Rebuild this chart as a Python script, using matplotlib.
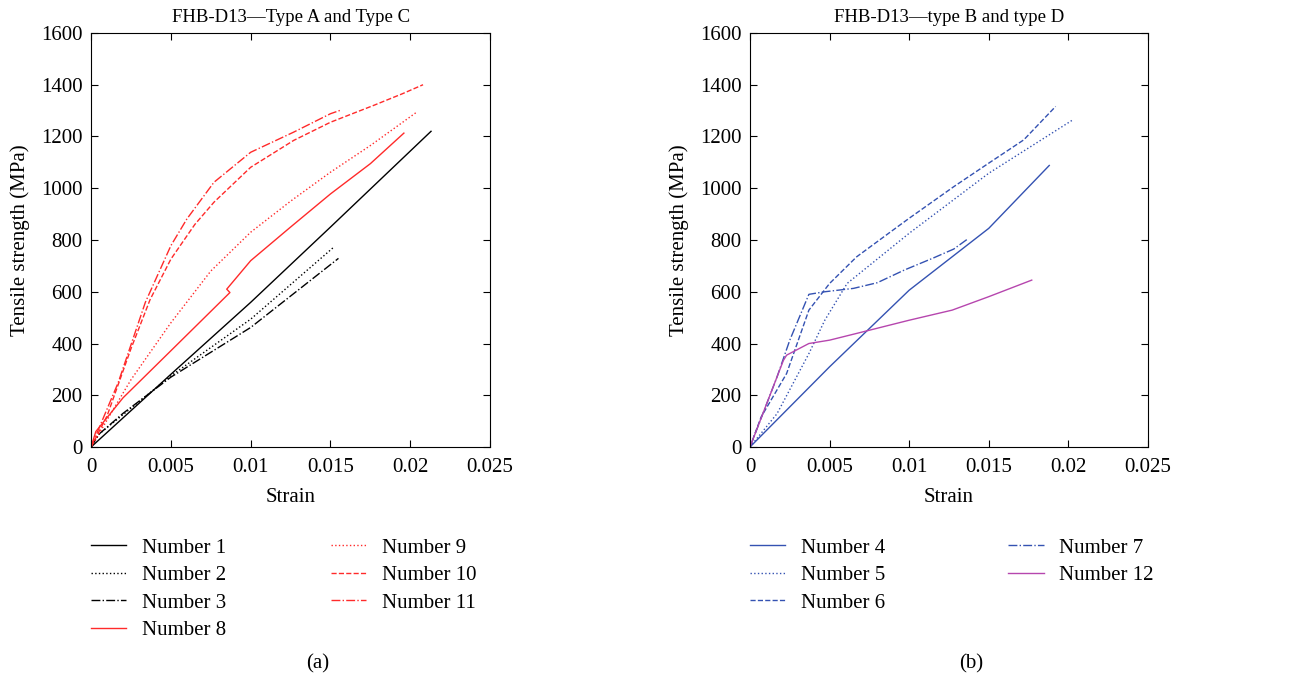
import matplotlib.pyplot as plt

plt.rcParams['font.family'] = ['Liberation Serif', 'DejaVu Serif']

RED = '#ff2a2a'
BLUE = '#3452b2'
MAGENTA = '#b646ae'

# (a) Type A and Type C
n1_x = [0, 0.005, 0.01, 0.015, 0.0213]
n1_y = [0, 281, 559, 850, 1220]
n2_x = [0, 0.0005, 0.002, 0.005, 0.01, 0.0152]
n2_y = [0, 50, 125, 275, 494, 772]
n3_x = [0, 0.0005, 0.002, 0.005, 0.01, 0.0155]
n3_y = [0, 50, 130, 270, 462, 729]
n8_x = [0, 0.0003, 0.002, 0.005, 0.0087, 0.0085, 0.01, 0.0125, 0.015, 0.0175, 0.0196]
n8_y = [0, 60, 190, 372, 597, 610, 720, 850, 978, 1095, 1213]
n9_x = [0, 0.0025, 0.005, 0.0075, 0.01, 0.0125, 0.015, 0.0175, 0.0204]
n9_y = [0, 260, 480, 680, 830, 950, 1062, 1165, 1294]
n10_x = [0, 0.001, 0.0025, 0.0037, 0.005, 0.0065, 0.0077, 0.01, 0.0127, 0.015, 0.0177, 0.0195, 0.0208]
n10_y = [0, 120, 380, 570, 726, 860, 946, 1081, 1185, 1255, 1320, 1365, 1400]
n11_x = [0, 0.0017, 0.0034, 0.005, 0.006, 0.0077, 0.01, 0.0127, 0.015, 0.0157]
n11_y = [0, 249, 559, 778, 881, 1023, 1139, 1217, 1288, 1303]

# (b) type B and type D
n4_x = [0, 0.005, 0.01, 0.015, 0.0188]
n4_y = [0, 310, 606, 845, 1088]
n5_x = [0, 0.0017, 0.0037, 0.0047, 0.0061, 0.01, 0.015, 0.0203]
n5_y = [0, 129, 361, 490, 632, 826, 1058, 1265]
n6_x = [0, 0.0007, 0.0023, 0.0037, 0.005, 0.0067, 0.009, 0.01, 0.0128, 0.015, 0.0172, 0.0192]
n6_y = [0, 116, 284, 529, 632, 735, 839, 884, 1006, 1097, 1187, 1316]
n7_x = [0, 0.0017, 0.0025, 0.0037, 0.0047, 0.0065, 0.008, 0.0097, 0.0115, 0.0128, 0.0137]
n7_y = [0, 271, 413, 590, 600, 613, 635, 684, 730, 765, 805]
n12_x = [0, 0.0021, 0.0023, 0.0037, 0.005, 0.0067, 0.01, 0.0127, 0.015, 0.0177]
n12_y = [0, 335, 355, 400, 413, 439, 490, 529, 581, 645]

fig = plt.figure(figsize=(13.16, 6.77), dpi=100)
ax1 = fig.add_axes([0.0692, 0.3397, 0.3032, 0.6116])
ax2 = fig.add_axes([0.5699, 0.3397, 0.3024, 0.6116])

ax1.plot(n1_x, n1_y, color='black', lw=1, ls='-', label='Number 1')
ax1.plot(n2_x, n2_y, color='black', lw=1, ls=':', label='Number 2')
ax1.plot(n3_x, n3_y, color='black', lw=1, ls='-.', label='Number 3')
ax1.plot(n8_x, n8_y, color=RED, lw=1, ls='-', label='Number 8')
ax1.plot(n9_x, n9_y, color=RED, lw=1, ls=':', label='Number 9')
ax1.plot(n10_x, n10_y, color=RED, lw=1, ls='--', label='Number 10')
ax1.plot(n11_x, n11_y, color=RED, lw=1, ls='-.', label='Number 11')

ax2.plot(n4_x, n4_y, color=BLUE, lw=1, ls='-', label='Number 4')
ax2.plot(n5_x, n5_y, color=BLUE, lw=1, ls=':', label='Number 5')
ax2.plot(n6_x, n6_y, color=BLUE, lw=1, ls='--', label='Number 6')
ax2.plot(n7_x, n7_y, color=BLUE, lw=1, ls='-.', label='Number 7')
ax2.plot(n12_x, n12_y, color=MAGENTA, lw=1, ls='-', label='Number 12')

titles = ['FHB-D13\u2014Type A and Type C', 'FHB-D13\u2014type B and type D']
colspace = [5.0, 5.9]
for ax, t, cs in zip([ax1, ax2], titles, colspace):
    ax.set_xlim(0, 0.025)
    ax.set_ylim(0, 1600)
    ax.set_xticks([0, 0.005, 0.01, 0.015, 0.02, 0.025])
    ax.set_xticklabels(['0', '0.005', '0.01', '0.015', '0.02', '0.025'])
    ax.set_yticks(range(0, 1601, 200))
    ax.tick_params(direction='in', top=True, right=True, labelsize=15, length=5)
    ax.tick_params(axis='x', pad=8)
    ax.tick_params(axis='y', pad=6)
    ax.set_title(t, fontsize=13.5, pad=8)
    ax.set_xlabel('Strain', fontsize=15, labelpad=8)
    ax.set_ylabel('Tensile strength (MPa)', fontsize=15, labelpad=8)
    ax.legend(loc='upper left', bbox_to_anchor=(0.0, -0.22), ncol=2, frameon=False,
              fontsize=15, handlelength=1.7, columnspacing=cs, labelspacing=0.38,
              handletextpad=0.75, borderpad=0, borderaxespad=0)

fig.text(0.2416, 0.012, '(a)', ha='center', fontsize=15)
fig.text(0.7378, 0.012, '(b)', ha='center', fontsize=15)

fig.savefig('out.png', dpi=100)
